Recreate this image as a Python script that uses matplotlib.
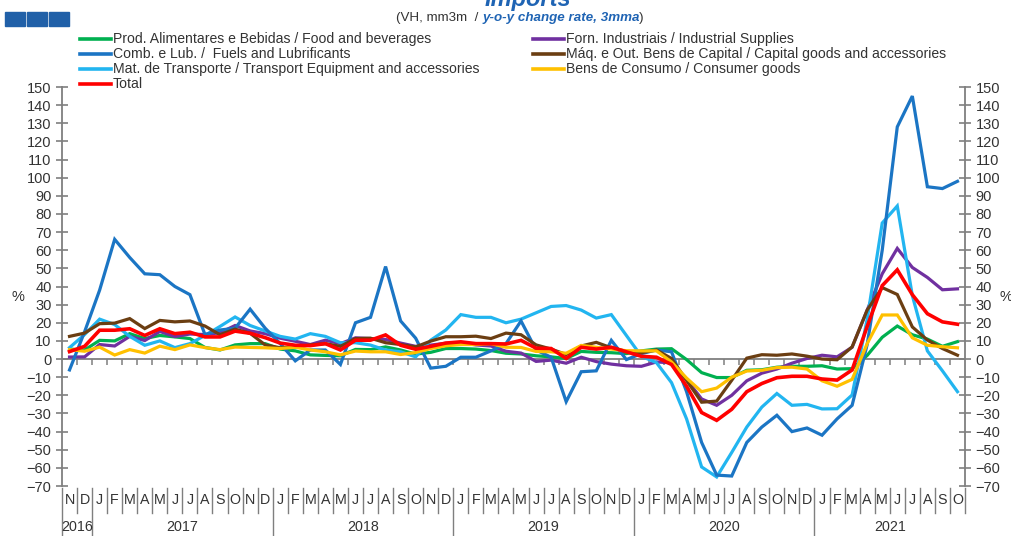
import numpy as np
import matplotlib
matplotlib.use("Agg")
import matplotlib.pyplot as plt
import matplotlib.transforms as mtransforms
from matplotlib.lines import Line2D
from matplotlib.patches import Rectangle
from matplotlib import font_manager

# ---------------- data ----------------
month_cycle = ["J", "F", "M", "A", "M", "J", "J", "A", "S", "O", "N", "D"]
month_labels = ["N", "D"] + month_cycle * 4 + month_cycle[:10]
year_labels = ["2016", "2017", "2018", "2019", "2020", "2021"]
year_months = [2, 12, 12, 12, 12, 10]

food = [5.5, 5, 10.3, 10, 14, 11.3, 13, 12.2, 11.3, 6.4, 5, 7.8, 8.5, 8.5,
        5.5, 4.5, 2.3, 2, 1.8, 5.3, 5.2, 6.7, 5, 2.7, 3.7, 5.8,
        5.8, 5.5, 4.7, 3.2, 2.8, 1.8, 1.2, 0.3, 4.2, 3.7, 3.5, 3,
        4.5, 5.5, 5.7, -0.3, -7.5, -10.2, -10.2, -6.2, -5.9, -4.5, -4, -4,
        -3.7, -5.5, -5.3, 2, 12, 18.2, 13.4, 11, 7, 9.6]
fuels = [-6, 15, 38, 66, 56, 47, 46.5, 40, 35.5, 13.5, 16, 17, 27.5, 17,
         8.5, -1, 5, 5, -3, 20, 23, 51, 21, 11.5, -5, -4,
         1, 1, 4.5, 8.5, 21, 5, 1, -23.5, -7, -6.5, 10.3, -0.3,
         3, 5, 4, -18, -46, -64, -64.5, -46, -37.5, -31, -40, -38,
         -42, -33, -25.5, 8, 60, 128, 145, 95, 94, 98]
transport = [6.3, 13.5, 22, 19, 12.5, 7.6, 10, 6.3, 8.5, 13, 18, 23.2, 18.5, 15.5,
             12.5, 11, 14, 12.5, 9, 9, 7.7, 5, 4, 1.2, 10.4, 16,
             24.5, 23, 23, 20, 22, 25.5, 29, 29.5, 27, 22.6, 24.5, 13,
             1.5, -2, -13, -33, -59.5, -65, -51.5, -37.5, -26.5, -19, -25.5, -25,
             -27.5, -27.4, -19.8, 22, 75, 84.4, 35, 4.5, -6.5, -18]
industrial = [1.1, 1.2, 8, 7.2, 12.5, 10.2, 15.2, 12.4, 13.8, 13.5, 14.5, 18.5, 15.5, 14,
              11.5, 9.8, 8, 10.4, 8.5, 11.7, 11.3, 10.8, 8.8, 7, 7.7, 8.7,
              9, 7.8, 7.2, 4.3, 3.3, -1.3, -0.6, -2.3, 1, -1.4, -2.8, -3.7,
              -4, -1.6, -2.1, -11.3, -22, -25.5, -20, -12, -7.8, -5.5, -2.3, 0.3,
              2.1, 1.2, 6.5, 27, 47, 61, 50.5, 45, 38.2, 38.7]
capital = [12.5, 14.3, 19.5, 19.8, 22.3, 16.8, 21.3, 20.5, 21, 18.2, 13.4, 16.5, 14.2, 7.8,
           6.2, 6.6, 7.8, 8.5, 7, 11.3, 11.5, 9, 8, 6.7, 9.9, 12.3,
           12.3, 12.6, 11.3, 14.3, 13.4, 7.8, 5.5, 2.5, 7.2, 9.2, 6.2, 4.2,
           3.5, 5, 0.3, -11.8, -23.8, -23.2, -11.7, 0.5, 2.4, 2.1, 2.8, 1.6,
           0, -0.4, 6.7, 27, 39.4, 35.6, 17.7, 10.5, 5.8, 2.1]
consumer = [5.2, 4.3, 6.6, 2.2, 5.2, 3.3, 7.1, 5.2, 7.8, 6.3, 5.2, 6.6, 6.4, 6.2,
            5.8, 6.5, 5, 4, 2.3, 4.4, 4, 4, 2.5, 3.6, 5.8, 7.3,
            8, 8, 8.5, 6.5, 6.4, 4.2, 4, 3.2, 7.5, 6.5, 5.5, 4.6,
            4.5, 4.5, -1.6, -10.5, -18, -16, -10, -6.6, -6.2, -4.7, -4.5, -5.5,
            -12, -15, -11.2, 8.5, 24.3, 24.3, 11.7, 7.6, 6.8, 6.2]
total = [4.1, 7, 15.9, 15.9, 16.7, 13, 16.7, 14, 14.8, 12.2, 12.2, 15.4, 14.2, 11.8,
         8.8, 7.6, 7.4, 8.5, 5, 10.4, 10.4, 13.3, 7.6, 5.4, 7, 8.8,
         9.5, 8.5, 8.5, 8.3, 10.3, 6, 5.8, 0.3, 6.5, 5.5, 6.5, 4,
         1.5, 1, -3, -15, -29.5, -33.8, -27.7, -18, -13.5, -10.3, -9.5, -9.5,
         -11, -11.6, -6, 18, 40.5, 49.2, 35.5, 25, 20.5, 19.2]

series_names = [
    "Prod. Alimentares e Bebidas / Food and beverages",
    "Comb. e Lub. /  Fuels and Lubrificants",
    "Mat. de Transporte / Transport Equipment and accessories",
    "Total",
    "Forn. Industriais / Industrial Supplies",
    "Máq. e Out. Bens de Capital / Capital goods and accessories",
    "Bens de Consumo / Consumer goods",
]
series_values = [food, fuels, transport, total, industrial, capital, consumer]
series_colors = ["#00B050", "#1B75C4", "#22B5F0", "#FF0000", "#7030A0", "#6B3E12", "#FFC000"]
draw_order = [0, 4, 2, 1, 5, 6, 3]

# ---------------- fonts ----------------
names = {f.name for f in font_manager.fontManager.ttflist}
NARROW = "Liberation Sans Narrow" if "Liberation Sans Narrow" in names else "Liberation Sans"
plt.rcParams["font.family"] = ["Liberation Sans", "DejaVu Sans"]

GRAY = "#7F7F7F"
TXT = "#333333"
W, H = 1012, 536

fig = plt.figure(figsize=(W / 100, H / 100), dpi=100)
ax_l, ax_r, ax_t, ax_b = 62, 965, 87, 486
ax = fig.add_axes([ax_l / W, 1 - ax_b / H, (ax_r - ax_l) / W, (ax_b - ax_t) / H])

x = np.arange(len(month_labels))
for k in draw_order:
    ax.plot(x, series_values[k], color=series_colors[k],
            lw=2.6 if k == 3 else 2.3, solid_joinstyle="miter", zorder=3 + draw_order.index(k))

ax.set_xlim(-0.5, len(month_labels) - 0.5)
ax.set_ylim(-70, 150)
ax.set_yticks(np.arange(-70, 151, 10))
ax.set_xticks([])
for s in ("top", "bottom"):
    ax.spines[s].set_visible(False)
for s in ("left", "right"):
    ax.spines[s].set_color(GRAY)
    ax.spines[s].set_linewidth(1.3)
ax.tick_params(axis="y", direction="inout", length=9, width=1.2, color=GRAY,
               labelsize=10.5, labelcolor=TXT, left=True, right=True,
               labelleft=True, labelright=True, pad=3)

# zero line with category ticks
ax.axhline(0, color=GRAY, lw=1.3, zorder=2)
bounds = np.arange(-0.5, len(month_labels), 1.0)
ax.vlines(bounds[1:-1], -3.4, 0, color=GRAY, lw=1.1, zorder=2)

# category axis below
bt = mtransforms.blended_transform_factory(ax.transData, fig.transFigure)
year_starts = np.cumsum([0] + year_months)[:-1] - 0.5
for b in bounds:
    is_year = b in year_starts
    ax.plot([b, b], [1 - 488 / H, 0 if is_year else 1 - 513 / H], color=GRAY, lw=1.0,
            transform=bt, clip_on=False)
for i, m in enumerate(month_labels):
    ax.text(i, 1 - 500 / H, m, transform=bt, ha="center", va="center",
            fontsize=10.3, color=TXT, family=[NARROW, "DejaVu Sans"])
for ys, n, lab in zip(year_starts, year_months, year_labels):
    ax.text(ys + n / 2, 1 - 527 / H, lab, transform=bt, ha="center", va="center",
            fontsize=10.3, color=TXT, family=[NARROW, "DejaVu Sans"])

# % labels
fig.text(18 / W, 1 - 297 / H, "%", ha="center", va="center", fontsize=10.5, color=TXT)
fig.text(1006 / W, 1 - 297 / H, "%", ha="center", va="center", fontsize=10.5, color=TXT)

# legend (manual, two columns)
leg_cols = [(80, 113), (533, 566)]
leg_rows = [39, 54, 69, 84]
col_of = [0, 0, 0, 0, 1, 1, 1]
row_of = [0, 1, 2, 3, 0, 1, 2]
for k, name in enumerate(series_names):
    lx, tx = leg_cols[col_of[k]]
    yy = 1 - leg_rows[row_of[k]] / H
    fig.add_artist(Line2D([lx / W, (lx + 31) / W], [yy, yy], color=series_colors[k],
                          lw=2.6, transform=fig.transFigure))
    fig.text(tx / W, yy, name, ha="left", va="center", fontsize=10.1, color=TXT,
             family=[NARROW, "DejaVu Sans"])

# logo squares
for xs in (5, 27, 49):
    fig.add_artist(Rectangle((xs / W, 1 - 26 / H), 20 / W, 14 / H, color="#2060A8",
                             transform=fig.transFigure))

# title (cut off at the top edge, as in the reference)
fig.text(528 / W, 1 - 6 / H, "Imports", ha="center", va="baseline", fontsize=17,
         fontweight="bold", fontstyle="italic", color="#1F64B4")

# subtitle, composed
fig.canvas.draw()
r = fig.canvas.get_renderer()
parts = [("(VH, mm3m  / ", TXT, "normal", "normal", 0),
         ("y-o-y change rate, 3mma", "#1F64B4", "bold", "italic", -0.5),
         (")", TXT, "normal", "normal", 0)]
objs = []
for txt, c, wgt, sty, _ in parts:
    objs.append(fig.text(0, 1 - 18 / H, txt, ha="left", va="center", fontsize=9.6,
                         color=c, fontweight=wgt, fontstyle=sty,
                         family=[NARROW, "DejaVu Sans"]))
widths = [o.get_window_extent(r).width + p[4] for o, p in zip(objs, parts)]
x0 = 520 - sum(widths) / 2
for o, wdt in zip(objs, widths):
    o.set_x(x0 / W)
    x0 += wdt

fig.savefig("out.png", dpi=100)
